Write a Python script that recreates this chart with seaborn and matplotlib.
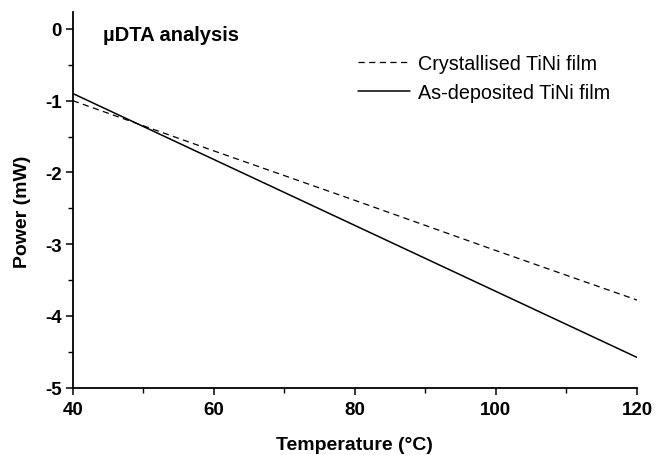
import matplotlib
matplotlib.use("Agg")
import matplotlib.pyplot as plt
import seaborn as sns
import pandas as pd
from matplotlib.ticker import MultipleLocator
from matplotlib.lines import Line2D

temperature = [40, 60, 80, 100, 120]
crystallised = [-1.00, -1.70, -2.39, -3.09, -3.78]
as_deposited = [-0.90, -1.82, -2.74, -3.66, -4.58]
series_names = ["Crystallised TiNi film", "As-deposited TiNi film"]
y_ticks = [0, -1, -2, -3, -4, -5]

sns.set_theme(style="ticks")
plt.rcParams['font.family'] = ['Liberation Sans', 'DejaVu Sans']
plt.rcParams.update({"text.color": "black", "axes.labelcolor": "black",
                     "xtick.color": "black", "ytick.color": "black"})

df = pd.DataFrame({
    "Temperature": temperature * 2,
    "Power": crystallised + as_deposited,
    "film": [series_names[0]] * len(temperature) + [series_names[1]] * len(temperature),
})

fig = plt.figure(figsize=(6.56, 4.56), dpi=100)
ax = fig.add_axes([0.111, 0.148, 0.86, 0.824])

sns.lineplot(data=df, x="Temperature", y="Power", style="film",
             dashes={series_names[0]: (5, 3.5), series_names[1]: ""},
             color="black", ax=ax, legend=False, estimator=None, sort=False)
for ln, lw in zip(ax.lines, [0.9, 1.1]):
    ln.set_linewidth(lw)

ax.set_xlim(40, 120)
ax.set_ylim(-5, 0.24)
ax.xaxis.set_major_locator(MultipleLocator(20))
ax.xaxis.set_minor_locator(MultipleLocator(10))
ax.yaxis.set_minor_locator(MultipleLocator(0.5))
ax.set_yticks(y_ticks)
ax.set_yticklabels([str(v) for v in y_ticks])
sns.despine(ax=ax)
for s in ["left", "bottom"]:
    ax.spines[s].set_linewidth(1.3)
    ax.spines[s].set_color("black")
ax.tick_params(which="major", direction="out", length=5, width=1.1, colors="black",
               labelsize=13.5)
ax.tick_params(axis="x", which="major", pad=5)
ax.tick_params(axis="y", which="major", pad=3)
ax.tick_params(which="minor", direction="out", length=3.5, width=1.0, colors="black")
for lab in ax.get_xticklabels() + ax.get_yticklabels():
    lab.set_fontweight("bold")

ax.set_xlabel("Temperature (°C)", fontsize=14, fontweight="bold", labelpad=13)
ax.set_ylabel("Power (mW)", fontsize=14, fontweight="bold", va="center")
ax.yaxis.set_label_coords(-0.089, 0.471)

ax.text(0.053, 0.939, "µDTA analysis", transform=ax.transAxes, fontsize=14.5,
        fontweight="bold", va="center", ha="left")

handles = [Line2D([], [], color="black", lw=0.9, dashes=(5, 3.5)),
           Line2D([], [], color="black", lw=1.1)]
ax.legend(handles, series_names, loc="upper left", bbox_to_anchor=(0.506, 0.887),
          frameon=False, fontsize=14.2, handlelength=2.6, handletextpad=0.41,
          labelspacing=0.5, borderpad=0, borderaxespad=0)

fig.savefig("out.png", dpi=100)
